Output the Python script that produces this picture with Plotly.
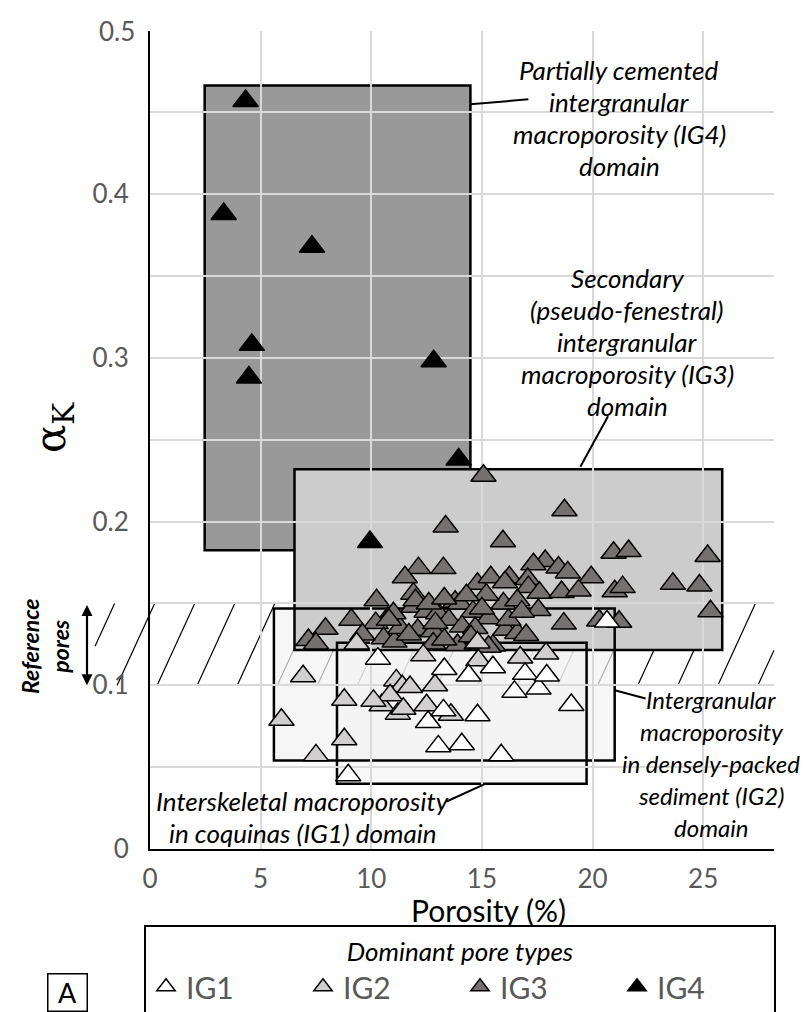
import plotly.graph_objects as go

# ---------------- data ----------------
ig1_x = [10.3, 8.96, 12.57, 13.26, 13.3, 14.4, 14.8, 13.03, 14.09, 15.5, 15.87,
         16.47, 17.56, 16.95, 17.93, 19.04, 20.65]
ig1_y = [0.1163, 0.045, 0.0776, 0.0847, 0.110, 0.106, 0.0817, 0.0627, 0.064, 0.111, 0.0573,
         0.096, 0.098, 0.107, 0.106, 0.088, 0.139]

ig2_x = [6.92, 5.94, 7.5, 8.78, 8.78, 9.34, 11.13, 11.4, 11.75, 10.47, 10.85, 11.2,
         11.45, 12.5, 12.88, 12.35, 13.6, 14.84, 14.8, 16.73, 17.9, 10.1]
ig2_y = [0.1055, 0.079, 0.0572, 0.0912, 0.067, 0.1255, 0.103, 0.0994, 0.099, 0.0878, 0.0939, 0.0827,
         0.0857, 0.0878, 0.100, 0.1183, 0.082, 0.1153, 0.1262, 0.117, 0.1194, 0.0905]

ig3_x = [15.07, 18.73, 13.36, 15.95, 20.95, 21.63, 25.2, 17.86, 17.33, 18.46, 18.88, 19.94,
         16.24, 17.07, 17.1, 17.6, 18.6, 19.37, 21.0, 21.36, 23.63, 24.83, 25.33, 15.97,
         17.55, 18.7, 20.3, 21.2, 12.13, 13.26, 11.52, 14.8, 15.4, 16.04, 10.24, 11.9,
         9.1, 10.74, 11.9, 12.5, 13.02, 13.79, 14.0, 14.6, 7.93, 15.2, 10.2, 13.5,
         15.3, 12.1, 12.8, 14.1, 14.7, 16.05, 16.6, 17.0, 7.16, 7.5, 10.56, 11.05,
         13.9, 15.5, 12.8, 14.77, 15.3, 12.0, 12.6, 13.3, 14.3, 16.6, 11.3, 11.7,
         12.9, 13.3, 14.5, 16.2, 15.0, 16.8, 9.6, 11.0, 10.8]
ig3_y = [0.228, 0.207, 0.197, 0.188, 0.181, 0.182, 0.179, 0.176, 0.174, 0.172, 0.169, 0.166,
         0.166, 0.165, 0.160, 0.1565, 0.157, 0.158, 0.1575, 0.160, 0.162, 0.161, 0.1453, 0.150,
         0.146, 0.1377, 0.1396, 0.1388, 0.1716, 0.1716, 0.166, 0.162, 0.166, 0.163, 0.152, 0.156,
         0.140, 0.141, 0.148, 0.145, 0.144, 0.151, 0.150, 0.145, 0.1346, 0.1554, 0.138, 0.140,
         0.141, 0.134, 0.133, 0.136, 0.135, 0.134, 0.132, 0.1307, 0.1277, 0.1256, 0.1287, 0.1267,
         0.1246, 0.1243, 0.1256, 0.1256, 0.1236, 0.152, 0.150, 0.153, 0.155, 0.152, 0.135, 0.131,
         0.138, 0.128, 0.130, 0.140, 0.147, 0.145, 0.131, 0.144, 0.140]

ig4_x = [4.32, 3.33, 7.32, 4.6, 4.47, 12.82, 13.95, 9.94]
ig4_y = [0.457, 0.388, 0.368, 0.308, 0.288, 0.298, 0.238, 0.1875]

# domains: (x0, x1, y0, y1)
dom_ig4 = (2.47, 14.48, 0.1825, 0.4665)
dom_ig3 = (6.53, 25.86, 0.1216, 0.232)
dom_ig2 = (5.6, 21.0, 0.054, 0.147)
dom_ig1 = (8.45, 19.73, 0.0398, 0.126)

ref_pores = (0.10, 0.15)

x_ticks = [0, 5, 10, 15, 20, 25]
y_ticks = [0, 0.1, 0.2, 0.3, 0.4]
y_top_label = "0.5"
XMAX, YMAX = 28.2, 0.5

# ---------------- styling / layout geometry ----------------
FONT = "Lato"
TICK_GRAY = "#595959"
GRID = "#d9d9d9"
C_IG3 = "#767171"
C_IG2 = "#d0cece"
ML, MR, MT, MB = 142, 43, 23, 171
W, H = 809, 1012
PW, PH = W - ML - MR, H - MT - MB
Y_STANDOFF = 14


def pxx(px):   # pixel -> paper x
    return (px - ML) / PW


def pxy(py):   # pixel -> paper y
    return (H - MB - py) / PH


def px2x(px):  # pixel -> data x
    return (px - ML) / PW * XMAX


fig = go.Figure()
shapes = []

# hatch band of reference pores (paper coords so it extends left of the axis)
h_left, h_right = px2x(87), XMAX
h_step, h_dx, h_phase = 1.81, 1.7, 0.32
b = h_phase
while b - h_step > h_left - h_dx:
    b -= h_step
while b < h_right:
    t0 = max(0.0, (h_left - b) / h_dx)
    t1 = min(1.0, (h_right - b) / h_dx)
    if t0 < t1:
        xa, xb = b + t0 * h_dx, b + t1 * h_dx
        ya = ref_pores[0] + t0 * (ref_pores[1] - ref_pores[0])
        yb = ref_pores[0] + t1 * (ref_pores[1] - ref_pores[0])
        shapes.append(dict(type="line", xref="paper", yref="paper",
                           x0=xa / XMAX, x1=xb / XMAX, y0=ya / YMAX, y1=yb / YMAX,
                           line=dict(color="black", width=1.2), layer="below"))
    b += h_step


def rect(d, fill, line_w, layer="below"):
    return dict(type="rect", xref="x", yref="y", x0=d[0], x1=d[1], y0=d[2], y1=d[3],
                fillcolor=fill, line=dict(color="black", width=line_w), layer=layer)


shapes.append(rect(dom_ig2, "rgba(242,242,242,0.72)", 0))
shapes.append(rect(dom_ig1, "rgba(242,242,242,0.5)", 0))
shapes.append(rect(dom_ig4, "#999999", 2.5))
shapes.append(rect(dom_ig3, "#cccccc", 2.5))
shapes.append(rect(dom_ig2, "rgba(0,0,0,0)", 2.5))
shapes.append(rect(dom_ig1, "rgba(0,0,0,0)", 2.5))

# leader lines
leaders = [((14.48, 0.455), (17.1, 0.458)),
           ((19.45, 0.2335), (20.7, 0.2644)),
           ((21.0, 0.097), (22.4, 0.092)),
           ((13.4, 0.029), (15.15, 0.0398))]
for (a, c) in leaders:
    shapes.append(dict(type="line", xref="x", yref="y", x0=a[0], y0=a[1], x1=c[0], y1=c[1],
                       line=dict(color="black", width=2), layer="above"))


# ---------------- traces ----------------
def tri(xs, ys, fill, name, rank):
    return go.Scatter(x=xs, y=ys, mode="markers", name=name, legendrank=rank,
                      marker=dict(symbol="triangle-up", size=22, color=fill,
                                  line=dict(color="black", width=1.5)),
                      cliponaxis=False)


fig.add_trace(tri(ig3_x, ig3_y, C_IG3, "IG3", 3))
fig.add_trace(tri(ig2_x, ig2_y, C_IG2, "IG2", 2))
fig.add_trace(tri(ig1_x, ig1_y, "white", "IG1", 1))
fig.add_trace(tri(ig4_x, ig4_y, "black", "IG4", 4))

# ---------------- annotations ----------------
ann = []
LINE_PX = 32


def block(lines, px, py_top, size=26):
    for i, t in enumerate(lines):
        ann.append(dict(x=pxx(px), y=pxy(py_top), xref="paper", yref="paper",
                        text="<i>" + t + "</i>", showarrow=False, yshift=-i * LINE_PX,
                        font=dict(family=FONT, size=size, color="black"),
                        xanchor="center", yanchor="middle"))


block(["Partially cemented", "intergranular", "macroporosity (IG4)", "domain"], 611, 62)
block(["Secondary", "(pseudo-fenestral)", "intergranular", "macroporosity (IG3)", "domain"],
      619, 270)
block(["Intergranular", "macroporosity", "in densely-packed", "sediment (IG2)", "domain"],
      703, 691, size=24)
block(["Interskeletal macroporosity", "in coquinas (IG1) domain"], 294, 793)

# reference pores arrow (double headed, spans the reference band)
band_px = (ref_pores[1] - ref_pores[0]) / YMAX * PH
ann.append(dict(x=pxx(79), y=ref_pores[0], xref="paper", yref="y",
                ax=0, ay=-band_px, axref="pixel", ayref="pixel", text="", showarrow=True,
                arrowhead=2, startarrowhead=2, arrowside="end+start",
                arrowsize=1, startarrowsize=1, arrowwidth=2.2, arrowcolor="black"))
ann.append(dict(x=pxx(37), y=pxy(638), xref="paper", yref="paper",
                xanchor="center", yanchor="middle",
                text="<b><i>Reference<br>pores</i></b>", textangle=-90, showarrow=False,
                font=dict(family=FONT, size=23, color="black")))

# y-axis title
ann.append(dict(x=pxx(45), y=pxy(420), xref="paper", yref="paper",
                xanchor="center", yanchor="middle",
                text="α<sub>K</sub>", textangle=-90, showarrow=False,
                font=dict(family="DejaVu Serif", size=42, color="black")))

# top y tick label (the top gridline is not drawn in the reference)
ann.append(dict(x=-(Y_STANDOFF - 1) / PW, y=1.0, xref="paper", yref="paper",
                xanchor="right", yanchor="middle", text=y_top_label, showarrow=False,
                font=dict(family=FONT, size=26, color=TICK_GRAY)))

# x-axis title
ann.append(dict(x=pxx(480), y=pxy(902), xref="paper", yref="paper", text="Porosity (%)",
                xanchor="center", yanchor="middle",
                showarrow=False, font=dict(family=FONT, size=30, color="black")))

# "A" box
ann.append(dict(x=pxx(59.5), y=pxy(984), xref="paper", yref="paper", text="A",
                xanchor="center", yanchor="middle", width=34, height=32,
                showarrow=False, bordercolor="black", borderwidth=1.5, borderpad=2,
                font=dict(family=FONT, size=27, color="black")))

fig.update_layout(
    width=W, height=H,
    margin=dict(l=ML, r=MR, t=MT, b=MB, autoexpand=False),
    paper_bgcolor="white", plot_bgcolor="rgba(0,0,0,0)",
    shapes=shapes, annotations=ann,
    showlegend=True,
    legend=dict(orientation="h", x=pxx(136), xanchor="left",
                y=pxy(1007), yanchor="bottom",
                bordercolor="black", borderwidth=2, bgcolor="white",
                font=dict(family=FONT, size=30, color=TICK_GRAY),
                title=dict(text="<i>Dominant pore types</i>", side="top center",
                           font=dict(family=FONT, size=26, color="black")),
                entrywidth=112, entrywidthmode="pixels", traceorder="normal"),
    xaxis=dict(range=[0, XMAX], tickvals=x_ticks, showgrid=True, gridcolor=GRID, gridwidth=2,
               showline=True, linecolor="black", linewidth=2, zeroline=False, ticks="",
               automargin=False, ticklabelstandoff=6,
               tickfont=dict(family=FONT, size=26, color=TICK_GRAY), fixedrange=True),
    yaxis=dict(range=[0, YMAX * 0.9995], tickvals=y_ticks, showgrid=True, gridcolor=GRID,
               gridwidth=2,
               minor=dict(dtick=0.05, tick0=0, showgrid=True, gridcolor=GRID, gridwidth=2),
               showline=True, linecolor="black", linewidth=2, zeroline=False, ticks="",
               ticklabelstandoff=Y_STANDOFF, automargin=False,
               tickfont=dict(family=FONT, size=26, color=TICK_GRAY), fixedrange=True),
)

fig.write_html("out.html")
